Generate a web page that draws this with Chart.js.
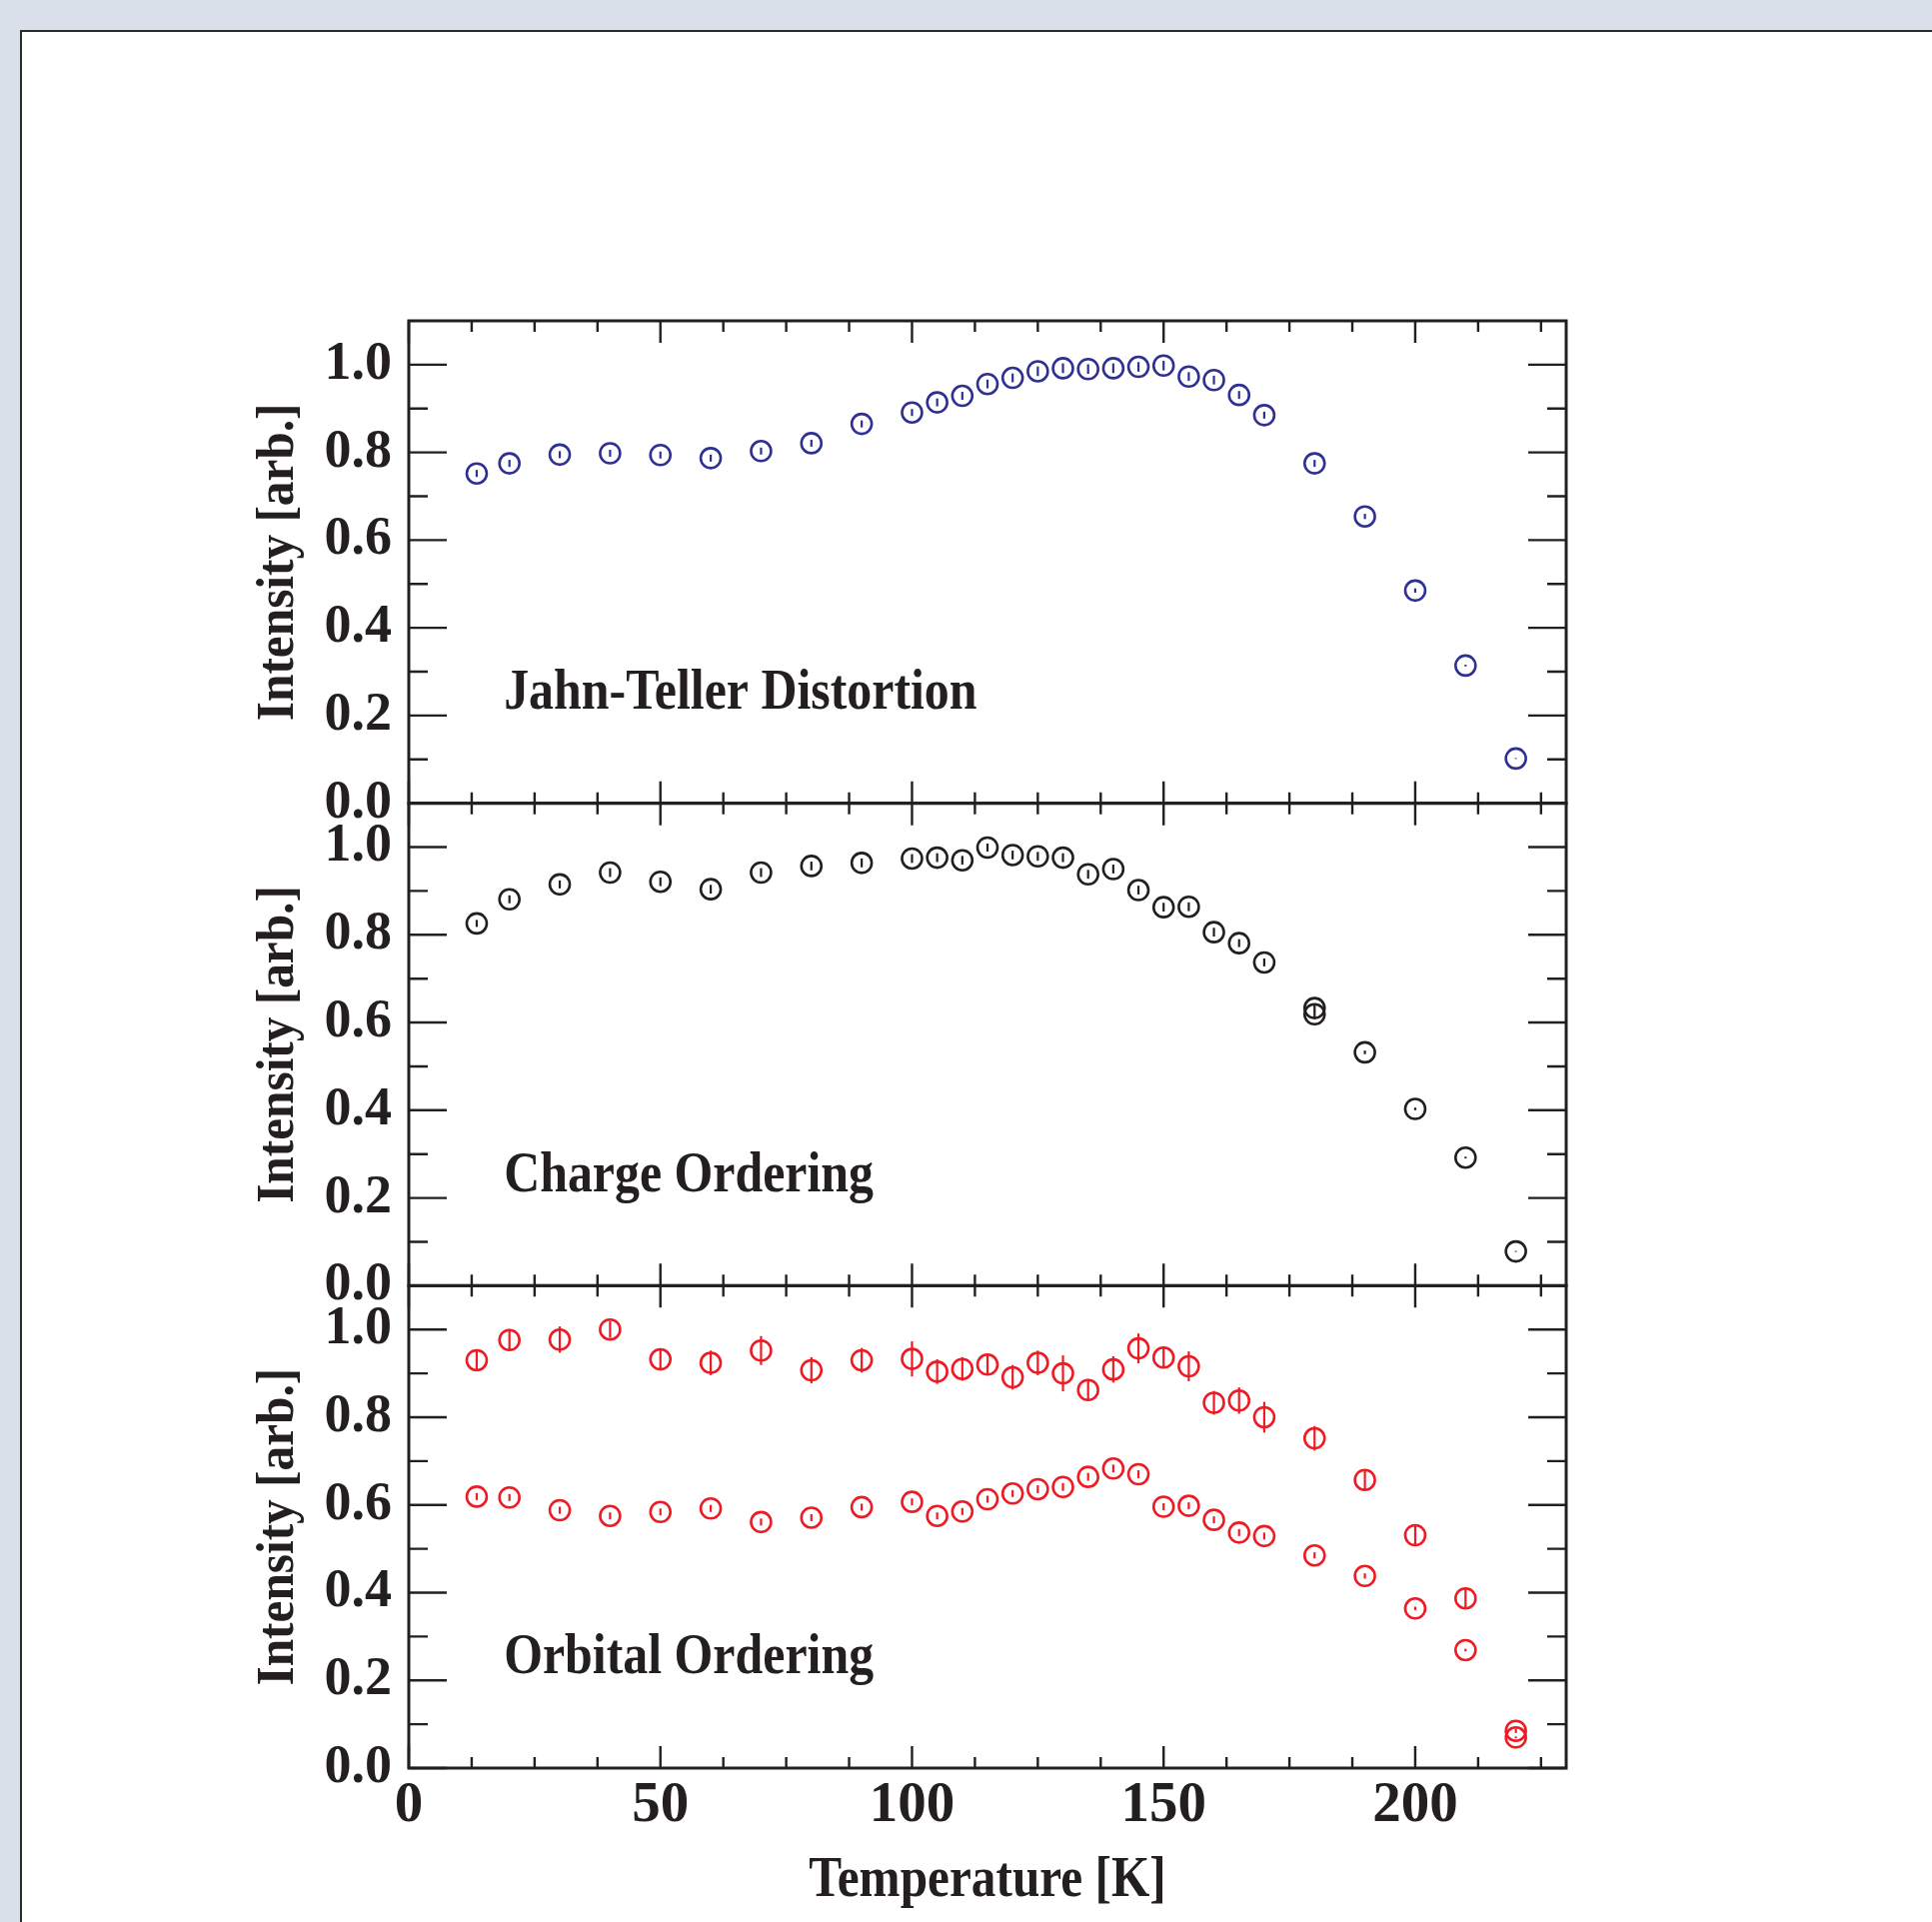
<!DOCTYPE html>
<html>
<head>
<meta charset="utf-8">
<title>Intensity vs Temperature</title>
<script src="https://cdn.jsdelivr.net/npm/chart.js@4.4.0/dist/chart.umd.min.js"></script>
<style>
  html, body { margin: 0; padding: 0; width: 1933px; height: 1923px; overflow: hidden; background: #d9e0e9; }
  #sheet { position: absolute; left: 20px; top: 30px; width: 3000px; height: 3000px; background: #fff;
           border-left: 2.5px solid #2a2a2a; border-top: 2.5px solid #2a2a2a; }
  #chart { position: absolute; left: 0; top: 0; }
</style>
</head>
<body>
<div id="sheet"></div>
<canvas id="chart" width="1933" height="1923"></canvas>
<script>
// Temperatures [K]
const tempMain = [13.5, 20, 30, 40, 50, 60, 70, 80, 90, 100, 105, 110, 115, 120, 125, 130, 135, 140, 145, 150, 155, 160, 165, 170, 180, 190, 200, 210, 220];
const tempCharge = [13.5, 20, 30, 40, 50, 60, 70, 80, 90, 100, 105, 110, 115, 120, 125, 130, 135, 140, 145, 150, 155, 160, 165, 170, 180, 180, 190, 200, 210, 220];

// Jahn-Teller distortion
const jtValues = [0.752, 0.775, 0.795, 0.798, 0.794, 0.787, 0.803, 0.821, 0.865, 0.891, 0.914, 0.929, 0.956, 0.970, 0.985, 0.992, 0.990, 0.992, 0.995, 0.998, 0.973, 0.965, 0.931, 0.885, 0.775, 0.654, 0.485, 0.314, 0.102];
const jtErrors = [0.008, 0.008, 0.008, 0.008, 0.008, 0.008, 0.008, 0.008, 0.008, 0.008, 0.009, 0.009, 0.010, 0.010, 0.011, 0.011, 0.011, 0.011, 0.011, 0.011, 0.010, 0.010, 0.009, 0.008, 0.008, 0.006, 0.005, 0.002, 0.001];

// Charge ordering
const coValues = [0.826, 0.881, 0.915, 0.942, 0.921, 0.904, 0.942, 0.957, 0.964, 0.974, 0.976, 0.970, 0.999, 0.982, 0.979, 0.976, 0.938, 0.950, 0.902, 0.863, 0.864, 0.806, 0.781, 0.737, 0.633, 0.619, 0.532, 0.403, 0.292, 0.078];
const coErrors = [0.008, 0.009, 0.009, 0.010, 0.010, 0.010, 0.010, 0.010, 0.010, 0.010, 0.010, 0.010, 0.009, 0.010, 0.010, 0.010, 0.010, 0.010, 0.010, 0.010, 0.010, 0.010, 0.009, 0.009, 0.008, 0.008, 0.004, 0.003, 0.002, 0.001];

// Orbital ordering (two reflections)
const ooHighValues = [0.930, 0.976, 0.977, 1.000, 0.932, 0.924, 0.952, 0.907, 0.930, 0.933, 0.904, 0.910, 0.920, 0.891, 0.924, 0.900, 0.862, 0.909, 0.957, 0.936, 0.916, 0.833, 0.838, 0.800, 0.752, 0.657, 0.531, 0.387, 0.085];
const ooHighErrors = [0.025, 0.025, 0.030, 0.019, 0.023, 0.028, 0.033, 0.030, 0.028, 0.040, 0.028, 0.027, 0.024, 0.028, 0.028, 0.041, 0.025, 0.030, 0.034, 0.024, 0.034, 0.027, 0.030, 0.035, 0.028, 0.022, 0.022, 0.022, 0.005];
const ooLowValues = [0.619, 0.617, 0.588, 0.575, 0.584, 0.592, 0.561, 0.571, 0.595, 0.607, 0.575, 0.585, 0.613, 0.626, 0.636, 0.641, 0.664, 0.683, 0.670, 0.596, 0.598, 0.566, 0.537, 0.529, 0.485, 0.438, 0.364, 0.269, 0.070];
const ooLowErrors = [0.008, 0.008, 0.008, 0.008, 0.008, 0.008, 0.008, 0.008, 0.008, 0.008, 0.008, 0.008, 0.008, 0.008, 0.009, 0.009, 0.009, 0.009, 0.009, 0.008, 0.008, 0.008, 0.008, 0.008, 0.007, 0.006, 0.004, 0.003, 0.002];

// Axes
const xMajorTicks = [0, 50, 100, 150, 200];
const xMinorTicks = [12.5, 25, 37.5, 62.5, 75, 87.5, 112.5, 125, 137.5, 162.5, 175, 187.5, 212.5, 225];
const yMajorTicks = [0, 0.2, 0.4, 0.6, 0.8, 1.0];
const yMinorTicks = [0.1, 0.3, 0.5, 0.7, 0.9];
const panelLabels = ['Jahn-Teller Distortion', 'Charge Ordering', 'Orbital Ordering'];
const xTitle = 'Temperature [K]';
const yTitle = 'Intensity [arb.]';

const ink = '#231f20';
const serif = '"Liberation Serif", "Times New Roman", serif';

const toPoints = (xs, ys) => xs.map((x, i) => ({ x, y: ys[i] }));

function makeSet(label, xs, ys, errs, color, axis) {
    return {
        label,
        data: toPoints(xs, ys),
        errors: errs,
        yAxisID: axis,
        borderColor: color,
        backgroundColor: 'rgba(0,0,0,0)',
        pointRadius: 10,
        pointHoverRadius: 10,
        pointBorderWidth: 2.6,
        showLine: false
    };
}

function panelAxis() {
    return {
        type: 'linear',
        position: 'left',
        stack: 'panels',
        stackWeight: 1,
        min: 0,
        max: 1.1,
        afterBuildTicks: s => { s.ticks = yMajorTicks.map(v => ({ value: v })); },
        afterFit: s => { s.width = 409; },
        grid: { display: false, drawTicks: false },
        border: { display: false },
        ticks: {
            autoSkip: false,
            padding: 17,
            color: ink,
            font: { family: serif, size: 54, weight: 'bold' },
            callback: v => Number(v).toFixed(1)
        }
    };
}

// Frame, inward ticks, error bars and texts
const panelDecor = {
    id: 'panelDecor',
    afterDatasetsDraw(chart) {
        const ctx = chart.ctx;
        chart.data.datasets.forEach((ds, i) => {
            const meta = chart.getDatasetMeta(i);
            const ys = chart.scales[ds.yAxisID];
            ctx.save();
            ctx.strokeStyle = ds.borderColor;
            ctx.lineWidth = 2.2;
            meta.data.forEach((pt, j) => {
                const v = ds.data[j].y, e = ds.errors[j];
                ctx.beginPath();
                ctx.moveTo(pt.x, ys.getPixelForValue(v - e));
                ctx.lineTo(pt.x, ys.getPixelForValue(v + e));
                ctx.stroke();
            });
            ctx.restore();
        });
    },
    afterDraw(chart) {
        const ctx = chart.ctx;
        const area = chart.chartArea;
        const xs = chart.scales.x;
        const panels = [chart.scales.yJT, chart.scales.yCO, chart.scales.yOO];

        ctx.save();
        ctx.strokeStyle = ink;
        ctx.fillStyle = ink;
        panels.forEach((ys, p) => {
            ctx.lineWidth = 3;
            ctx.strokeRect(area.left, ys.top, area.right - area.left, ys.bottom - ys.top);

            ctx.lineWidth = 2.4;
            ctx.beginPath();
            const yTick = (v, len) => {
                const py = ys.getPixelForValue(v);
                ctx.moveTo(area.left, py); ctx.lineTo(area.left + len, py);
                ctx.moveTo(area.right, py); ctx.lineTo(area.right - len, py);
            };
            yMajorTicks.forEach(v => yTick(v, 38));
            yMinorTicks.forEach(v => yTick(v, 19));
            const xTick = (v, len) => {
                const px = xs.getPixelForValue(v);
                ctx.moveTo(px, ys.bottom); ctx.lineTo(px, ys.bottom - len);
                ctx.moveTo(px, ys.top); ctx.lineTo(px, ys.top + len);
            };
            xMajorTicks.forEach(v => xTick(v, 22));
            xMinorTicks.forEach(v => xTick(v, 11));
            ctx.stroke();

            // panel label
            ctx.save();
            ctx.font = 'bold 58px ' + serif;
            ctx.textAlign = 'left';
            ctx.textBaseline = 'alphabetic';
            ctx.translate(xs.getPixelForValue(18.9), ys.getPixelForValue(0.216));
            ctx.scale(0.86, 1);
            ctx.fillText(panelLabels[p], 0, 0);
            ctx.restore();

            // y axis title
            ctx.save();
            ctx.font = 'bold 53px ' + serif;
            ctx.textAlign = 'center';
            ctx.textBaseline = 'alphabetic';
            ctx.translate(293, (ys.top + ys.bottom) / 2);
            ctx.rotate(-Math.PI / 2);
            ctx.scale(0.93, 1);
            ctx.fillText(yTitle, 0, 0);
            ctx.restore();
        });

        // x axis title
        ctx.save();
        ctx.font = 'bold 58px ' + serif;
        ctx.textAlign = 'center';
        ctx.textBaseline = 'alphabetic';
        ctx.translate((area.left + area.right) / 2, 1897);
        ctx.scale(0.85, 1);
        ctx.fillText(xTitle, 0, 0);
        ctx.restore();
        ctx.restore();
    }
};

new Chart(document.getElementById('chart'), {
    type: 'scatter',
    data: {
        datasets: [
            makeSet('Jahn-Teller Distortion', tempMain, jtValues, jtErrors, '#2e3192', 'yJT'),
            makeSet('Charge Ordering', tempCharge, coValues, coErrors, ink, 'yCO'),
            makeSet('Orbital Ordering (upper)', tempMain, ooHighValues, ooHighErrors, '#ed1c24', 'yOO'),
            makeSet('Orbital Ordering (lower)', tempMain, ooLowValues, ooLowErrors, '#ed1c24', 'yOO')
        ]
    },
    options: {
        responsive: false,
        devicePixelRatio: 1,
        animation: false,
        layout: { padding: { left: 0, top: 321, right: 366, bottom: 0 } },
        scales: {
            yOO: panelAxis(),
            yCO: panelAxis(),
            yJT: panelAxis(),
            x: {
                type: 'linear',
                position: 'bottom',
                min: 0,
                max: 230,
                afterBuildTicks: s => { s.ticks = xMajorTicks.map(v => ({ value: v })); },
                afterFit: s => { s.height = 154; },
                grid: { display: false, drawTicks: false },
                border: { display: false },
                ticks: {
                    autoSkip: false,
                    maxRotation: 0,
                    padding: 4,
                    color: ink,
                    font: { family: serif, size: 57, weight: 'bold' }
                }
            }
        },
        plugins: {
            legend: { display: false },
            tooltip: { enabled: false }
        }
    },
    plugins: [panelDecor]
});
</script>
</body>
</html>
